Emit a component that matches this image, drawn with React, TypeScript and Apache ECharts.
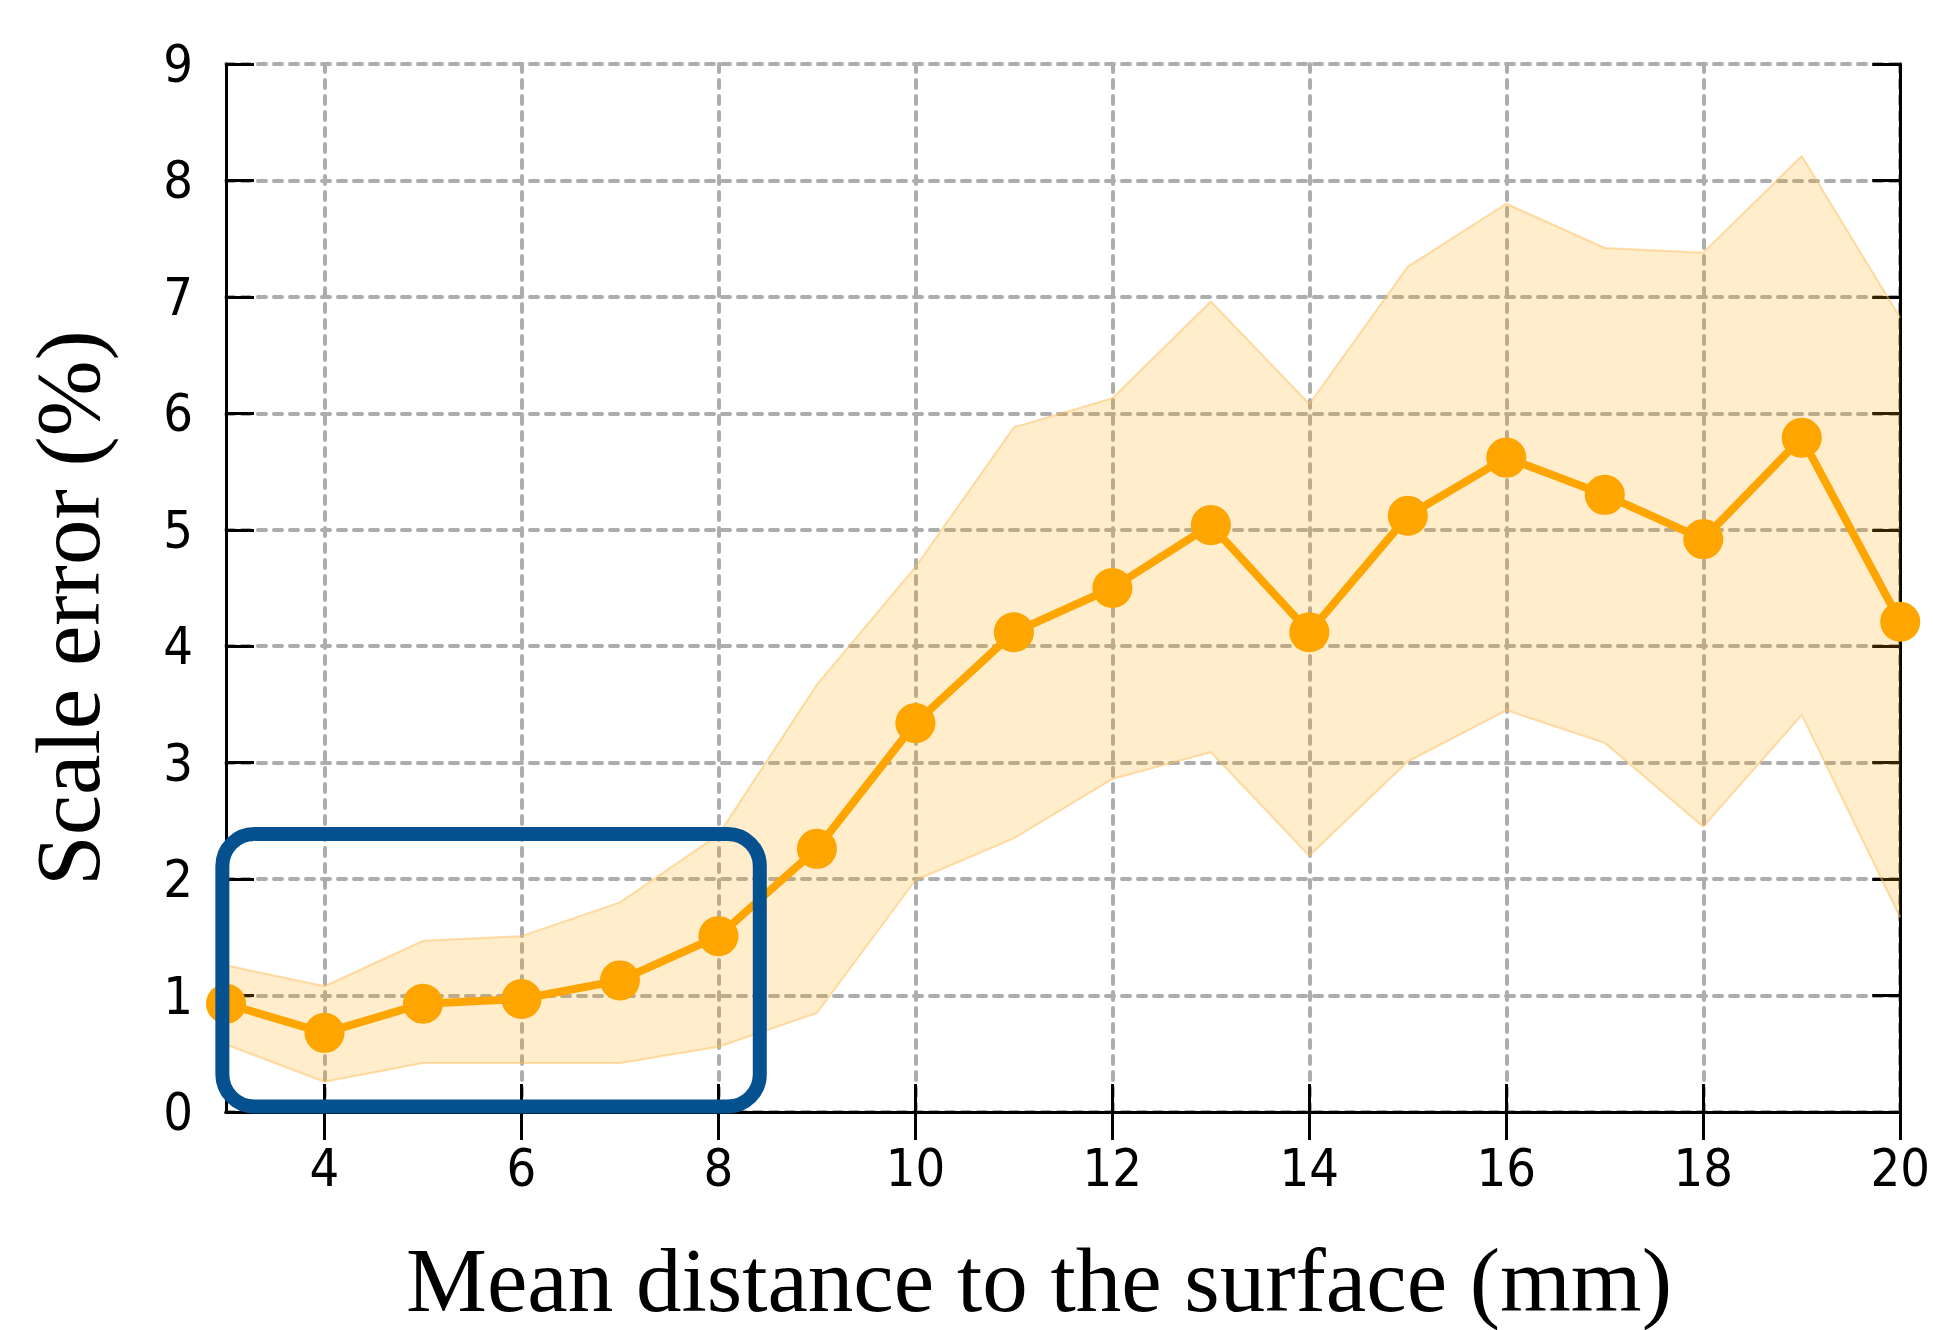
import React, { useEffect, useRef } from "react";
import * as echarts from "echarts";

const xValues = [3, 4, 5, 6, 7, 8, 9, 10, 11, 12, 13, 14, 15, 16, 17, 18, 19, 20];
const meanError = [0.93, 0.68, 0.93, 0.97, 1.13, 1.51, 2.26, 3.34, 4.12, 4.5, 5.04, 4.12, 5.12, 5.62, 5.3, 4.92, 5.79, 4.21];
const upperBound = [1.26, 1.08, 1.47, 1.51, 1.8, 2.38, 3.67, 4.68, 5.88, 6.13, 6.96, 6.08, 7.26, 7.8, 7.42, 7.38, 8.21, 6.82];
const lowerBound = [0.58, 0.26, 0.42, 0.42, 0.42, 0.56, 0.85, 1.99, 2.35, 2.86, 3.09, 2.2, 3.01, 3.45, 3.17, 2.45, 3.41, 1.67];
const yMin = 0;
const yMax = 9;
// highlighted region (data coordinates): x from..to, y from..to
const boxX = [2.963, 8.42];
const boxY = [0.047, 2.387];

const xTitle = "Mean distance to the surface (mm)";
const yTitle = "Scale error (%)";

const tickFont = "'DejaVu Sans Condensed', 'DejaVu Sans', sans-serif";
const titleFont = "'Liberation Serif', 'Times New Roman', serif";

const isEven = (_i: number, v: string) => Number(v) % 2 === 0;

export default function App() {
  const ref = useRef<HTMLDivElement>(null);
  useEffect(() => {
    if (!ref.current) return;
    const chart = echarts.init(ref.current, null, { renderer: "svg" });
    const cats = xValues.map(String);
    const diff = upperBound.map((u, i) => +(u - lowerBound[i]).toFixed(3));
    const frameLine = { lineStyle: { color: "#000", width: 3 } };
    const tick = { inside: true, length: 28, lineStyle: { color: "#000", width: 3 } };
    const grid = { color: "#adadad", width: 4, type: [8, 8] as any, cap: "round" as any };
    const option: any = {
      animation: false,
      grid: { left: 226, right: 31, top: 64, bottom: 218 },
      xAxis: [
        {
          type: "category",
          data: cats,
          boundaryGap: false,
          axisLine: { show: true, ...frameLine },
          axisTick: { show: true, ...tick, interval: isEven },
          axisLabel: { interval: isEven, margin: 30, fontSize: 52, fontFamily: tickFont, color: "#000" },
          splitLine: { show: true, interval: isEven, lineStyle: grid },
        },
        {
          type: "category",
          position: "top",
          data: cats,
          boundaryGap: false,
          axisLine: { show: true, ...frameLine },
          axisTick: { show: true, ...tick, interval: isEven },
          axisLabel: { show: false },
          splitLine: { show: false },
        },
      ],
      yAxis: [
        {
          type: "value",
          min: yMin,
          max: yMax,
          interval: 1,
          axisLine: { show: true, ...frameLine },
          axisTick: { show: true, ...tick },
          axisLabel: { margin: 33, fontSize: 52, fontFamily: tickFont, color: "#000", padding: [10, 0, 0, 0] },
          splitLine: { show: true, lineStyle: grid },
        },
        {
          type: "value",
          position: "right",
          min: yMin,
          max: yMax,
          interval: 1,
          axisLine: { show: true, ...frameLine },
          axisTick: { show: true, ...tick },
          axisLabel: { show: false },
          splitLine: { show: false },
        },
      ],
      series: [
        {
          type: "line",
          data: lowerBound,
          stack: "band",
          symbol: "none",
          lineStyle: { color: "rgba(255,190,90,0.5)", width: 2 },
          z: 2,
        },
        {
          type: "line",
          data: diff,
          stack: "band",
          symbol: "none",
          lineStyle: { color: "rgba(255,190,90,0.5)", width: 2 },
          areaStyle: { color: "rgba(255,165,0,0.2)", opacity: 1 },
          z: 2,
        },
        {
          type: "line",
          data: meanError,
          symbol: "circle",
          symbolSize: 40,
          clip: false,
          lineStyle: { color: "#FFA500", width: 8 },
          itemStyle: { color: "#FFA500" },
          z: 3,
        },
      ],
      graphic: [
        {
          id: "xtitle",
          type: "text",
          x: 1039,
          y: 1280,
          style: {
            text: xTitle,
            fontSize: 91,
            fontFamily: titleFont,
            fill: "#000",
            align: "center",
            verticalAlign: "middle",
          },
        },
        {
          id: "ytitle",
          type: "text",
          x: 68,
          y: 608,
          rotation: Math.PI / 2,
          style: {
            text: yTitle,
            fontSize: 91,
            fontFamily: titleFont,
            fill: "#000",
            align: "center",
            verticalAlign: "middle",
          },
        },
      ],
    };
    chart.setOption(option);

    const a = chart.convertToPixel({ xAxisIndex: 0 }, 0) as number;
    const b = chart.convertToPixel({ xAxisIndex: 0 }, xValues.length - 1) as number;
    const px = (v: number) => a + ((v - xValues[0]) / (xValues[xValues.length - 1] - xValues[0])) * (b - a);
    const py = (v: number) => chart.convertToPixel({ yAxisIndex: 0 }, v) as number;
    const left = px(boxX[0]);
    const right = px(boxX[1]);
    const top = py(boxY[1]);
    const bottom = py(boxY[0]);
    chart.setOption({
      graphic: [
        {
          id: "box",
          type: "rect",
          z: 100,
          shape: { x: left, y: top, width: right - left, height: bottom - top, r: 32 },
          style: { fill: "none", stroke: "#05518f", lineWidth: 14 },
        },
      ],
    });
    return () => chart.dispose();
  }, []);
  return (
    <div
      ref={ref}
      style={{ position: "fixed", left: 0, top: 0, width: 1933, height: 1330, background: "#fff" }}
    />
  );
}
